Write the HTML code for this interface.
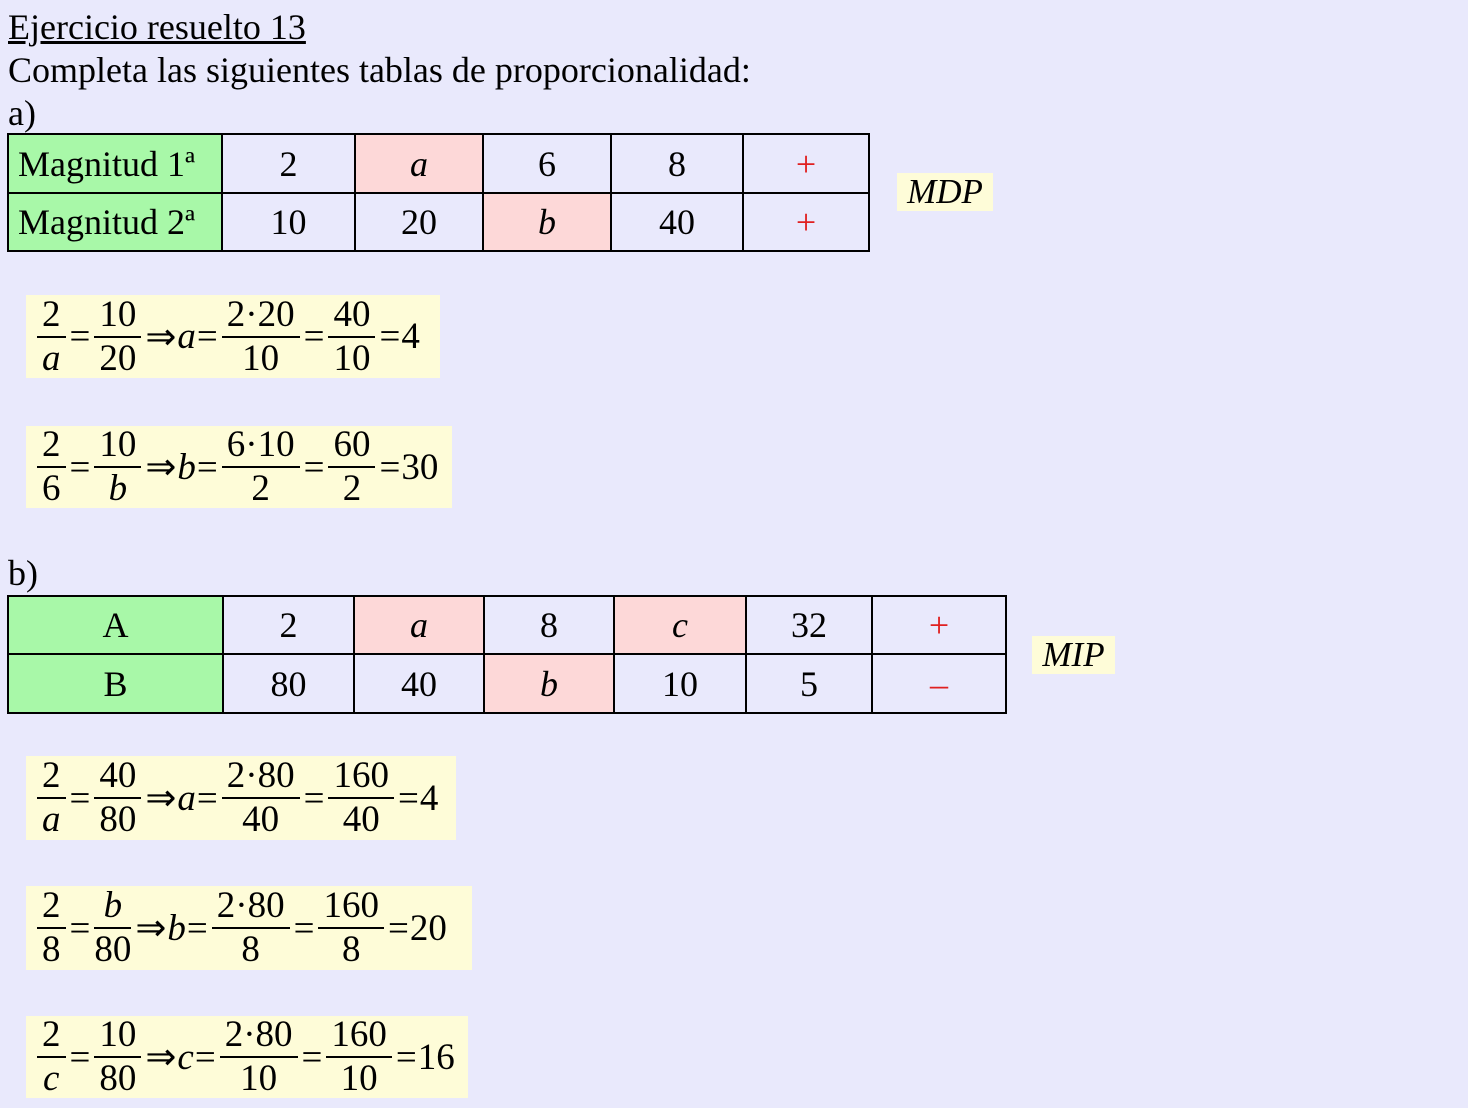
<!DOCTYPE html>
<html><head><meta charset="utf-8"><style>
body{margin:0;width:1468px;height:1108px;background:#e9e9fc;font-family:"Liberation Serif",serif;color:#000;position:relative;overflow:hidden}
.t{position:absolute;font-size:36px;line-height:40px;white-space:nowrap}
table{position:absolute;border-collapse:collapse;font-size:36px}
td{border:2px solid #000;padding:0;text-align:center;}
.g{background:#a8f8a8}.p{background:#fdd8d8}
.r{color:#e02020}
.y{position:absolute;background:#fefcd8;display:flex;align-items:center;padding-left:8px;font-size:37px;box-sizing:border-box;white-space:nowrap}
.f{display:inline-flex;flex-direction:column;align-items:center;margin:0 3px;line-height:42px}
.f span:first-child{border-bottom:2px solid #000;padding:0 5px;width:100%;text-align:center;box-sizing:border-box}
.o{margin:0 1px}
i{font-style:italic}
.tag{position:absolute;background:#fefcd8;font-size:35px;font-style:italic;text-align:center;line-height:38px}
</style></head><body>
<div class="t" style="left:8px;top:7px;text-decoration:underline">Ejercicio resuelto 13</div>
<div class="t" style="left:8px;top:50px">Completa las siguientes tablas de proporcionalidad:</div>
<div class="t" style="left:8px;top:93px">a)</div>
<table style="left:7px;top:133px">
<tr style="height:59px"><td class="g" style="width:214px;text-align:left;padding-left:9px;box-sizing:border-box">Magnitud 1ª</td><td style="width:131px">2</td><td class="p" style="width:126px"><i>a</i></td><td style="width:126px">6</td><td style="width:130px">8</td><td class="r" style="width:124px">+</td></tr>
<tr style="height:58px"><td class="g" style="text-align:left;padding-left:9px">Magnitud 2ª</td><td>10</td><td>20</td><td class="p"><i>b</i></td><td>40</td><td class="r">+</td></tr>
</table>
<div class="tag" style="left:897px;top:173px;width:96px">MDP</div>

<div class="y" style="left:26px;top:295px;width:414px;height:83px"><span class="f"><span>2</span><span><i>a</i></span></span><span class="o">=</span><span class="f"><span>10</span><span>20</span></span><span class="o">⇒</span><i>a</i><span class="o">=</span><span class="f"><span>2·20</span><span>10</span></span><span class="o">=</span><span class="f"><span>40</span><span>10</span></span><span class="o">=</span>4</div>
<div class="y" style="left:26px;top:426px;width:426px;height:82px"><span class="f"><span>2</span><span>6</span></span><span class="o">=</span><span class="f"><span>10</span><span><i>b</i></span></span><span class="o">⇒</span><i>b</i><span class="o">=</span><span class="f"><span>6·10</span><span>2</span></span><span class="o">=</span><span class="f"><span>60</span><span>2</span></span><span class="o">=</span>30</div>

<div class="t" style="left:8px;top:553px">b)</div>
<table style="left:7px;top:595px">
<tr style="height:58px"><td class="g" style="width:213px">A</td><td style="width:129px">2</td><td class="p" style="width:128px"><i>a</i></td><td style="width:128px">8</td><td class="p" style="width:130px"><i>c</i></td><td style="width:124px">32</td><td class="r" style="width:132px">+</td></tr>
<tr style="height:59px"><td class="g">B</td><td>80</td><td>40</td><td class="p"><i>b</i></td><td>10</td><td>5</td><td class="r">–</td></tr>
</table>
<div class="tag" style="left:1032px;top:636px;width:83px">MIP</div>

<div class="y" style="left:26px;top:756px;width:430px;height:84px"><span class="f"><span>2</span><span><i>a</i></span></span><span class="o">=</span><span class="f"><span>40</span><span>80</span></span><span class="o">⇒</span><i>a</i><span class="o">=</span><span class="f"><span>2·80</span><span>40</span></span><span class="o">=</span><span class="f"><span>160</span><span>40</span></span><span class="o">=</span>4</div>
<div class="y" style="left:26px;top:886px;width:446px;height:84px"><span class="f"><span>2</span><span>8</span></span><span class="o">=</span><span class="f"><span><i>b</i></span><span>80</span></span><span class="o">⇒</span><i>b</i><span class="o">=</span><span class="f"><span>2·80</span><span>8</span></span><span class="o">=</span><span class="f"><span>160</span><span>8</span></span><span class="o">=</span>20</div>
<div class="y" style="left:26px;top:1016px;width:442px;height:82px"><span class="f"><span>2</span><span><i>c</i></span></span><span class="o">=</span><span class="f"><span>10</span><span>80</span></span><span class="o">⇒</span><i>c</i><span class="o">=</span><span class="f"><span>2·80</span><span>10</span></span><span class="o">=</span><span class="f"><span>160</span><span>10</span></span><span class="o">=</span>16</div>
</body></html>
